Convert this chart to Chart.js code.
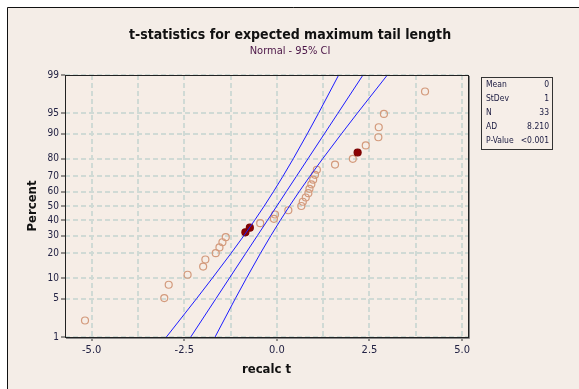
<!DOCTYPE html>
<html>
<head>
<meta charset="utf-8">
<script src="https://cdn.jsdelivr.net/npm/chart.js@4"></script>
<style>
  html, body { margin: 0; padding: 0; background: #fff; }
  canvas { display: block; }
</style>
</head>
<body>
<canvas id="myChart" width="579" height="389"></canvas>
<script>
// recalc t values (sorted) and their plotted percent
const recalcT = [-5.18, -3.04, -2.92, -2.41, -1.99, -1.93, -1.65, -1.55, -1.47, -1.38,
  -0.85, -0.73, -0.45, -0.08, -0.05, 0.31, 0.66, 0.70, 0.78, 0.85,
  0.88, 0.93, 0.98, 1.03, 1.08, 1.57, 2.05, 2.18, 2.40, 2.74,
  2.75, 2.89, 4.00];
const percentRank = [2.1, 5.1, 8.1, 11.1, 14.1, 17.1, 20.1, 23.1, 26.0, 29.0,
  32.0, 35.0, 38.0, 41.0, 44.0, 47.0, 50.0, 53.0, 56.0, 59.0,
  62.0, 65.0, 68.0, 71.0, 74.0, 76.9, 79.9, 82.9, 85.9, 88.9,
  91.9, 94.9, 97.9];
const brushedRows = [11, 12, 28];

// fitted line and 95% CI
const fitPercent = [1, 5, 10, 20, 30, 40, 50, 60, 70, 80, 90, 95, 99];
const fitT = [-2.326, -1.645, -1.282, -0.842, -0.524, -0.253, 0, 0.253, 0.524, 0.842, 1.282, 1.645, 2.326];
const lowerCI = [-2.983, -2.168, -1.743, -1.239, -0.888, -0.600, -0.341, -0.094, 0.160, 0.445, 0.821, 1.122, 1.669];
const upperCI = [-1.669, -1.122, -0.821, -0.445, -0.160, 0.094, 0.341, 0.600, 0.888, 1.239, 1.743, 2.168, 2.983];

const yTicks = [1, 5, 10, 20, 30, 40, 50, 60, 70, 80, 90, 95, 99];
const statLabels = ['Mean', 'StDev', 'N', 'AD', 'P-Value'];
const statValues = ['0', '1', '33', '8.210', '<0.001'];

const FONT = "'DejaVu Sans Condensed', 'DejaVu Sans', sans-serif";

// inverse normal cdf (Acklam)
function probit(p) {
  const a = [-3.969683028665376e+01, 2.209460984245205e+02, -2.759285104469687e+02, 1.383577518672690e+02, -3.066479806614716e+01, 2.506628277459239e+00];
  const b = [-5.447609879822406e+01, 1.615858368580409e+02, -1.556989798598866e+02, 6.680131188771972e+01, -1.328068155288572e+01];
  const c = [-7.784894002430293e-03, -3.223964580411365e-01, -2.400758277161838e+00, -2.549732539343734e+00, 4.374664141464968e+00, 2.938163982698783e+00];
  const d = [7.784695709041462e-03, 3.224671290700398e-01, 2.445134137142996e+00, 3.754408661907416e+00];
  const pl = 0.02425;
  if (p < pl) {
    const q = Math.sqrt(-2 * Math.log(p));
    return (((((c[0]*q+c[1])*q+c[2])*q+c[3])*q+c[4])*q+c[5]) / ((((d[0]*q+d[1])*q+d[2])*q+d[3])*q+1);
  }
  if (p > 1 - pl) {
    const q = Math.sqrt(-2 * Math.log(1 - p));
    return -(((((c[0]*q+c[1])*q+c[2])*q+c[3])*q+c[4])*q+c[5]) / ((((d[0]*q+d[1])*q+d[2])*q+d[3])*q+1);
  }
  const q = p - 0.5, r = q * q;
  return (((((a[0]*r+a[1])*r+a[2])*r+a[3])*r+a[4])*r+a[5])*q / (((((b[0]*r+b[1])*r+b[2])*r+b[3])*r+b[4])*r+1);
}

// normal probability axis
const LinearScale = Chart.LinearScale || Chart.registry.getScale('linear');
class ProbabilityScale extends LinearScale {
  determineDataLimits() {
    this.min = probit(this.options.min / 100);
    this.max = probit(this.options.max / 100);
  }
  buildTicks() {
    return yTicks.map(v => ({ value: v }));
  }
  getPixelForValue(value) {
    return this.getPixelForDecimal((probit(value / 100) - this.min) / (this.max - this.min));
  }
}
ProbabilityScale.id = 'probability';
Chart.register(ProbabilityScale);

const isMajor = v => Math.abs(v / 2.5 - Math.round(v / 2.5)) < 1e-6;

const decor = {
  id: 'decor',
  beforeDraw(chart) {
    const { ctx, chartArea: a } = chart;
    ctx.save();
    ctx.fillStyle = '#ffffff';
    ctx.fillRect(0, 0, chart.width, chart.height);
    ctx.fillStyle = '#f4ede7';
    ctx.fillRect(7, 7, chart.width - 7, chart.height - 7);
    ctx.strokeStyle = '#111';
    ctx.lineWidth = 1;
    ctx.beginPath();
    ctx.moveTo(7.5, chart.height);
    ctx.lineTo(7.5, 7.5);
    ctx.lineTo(chart.width, 7.5);
    ctx.stroke();
    ctx.fillStyle = '#f6ede6';
    ctx.fillRect(a.left, a.top, a.right - a.left, a.bottom - a.top);
    ctx.restore();
  },
  afterDraw(chart) {
    const { ctx, chartArea: a } = chart;
    ctx.save();
    // plot frame
    ctx.strokeStyle = '#222';
    ctx.lineWidth = 1;
    ctx.strokeRect(a.left + 0.5, a.top + 0.5, a.right - a.left, a.bottom - a.top);
    ctx.strokeStyle = '#888';
    ctx.beginPath();
    ctx.moveTo(a.right + 1.5, a.top + 1);
    ctx.lineTo(a.right + 1.5, a.bottom + 1.5);
    ctx.lineTo(a.left + 1, a.bottom + 1.5);
    ctx.stroke();

    // titles
    ctx.textAlign = 'center';
    ctx.textBaseline = 'middle';
    ctx.fillStyle = '#111';
    ctx.font = "bold 14px " + FONT;
    ctx.fillText('t-statistics for expected maximum tail length', 290, 35);
    ctx.fillStyle = '#4a1446';
    ctx.font = "11px " + FONT;
    ctx.fillText('Normal - 95% CI', 290, 51);

    // stats box
    const bx = 481, by = 77, bw = 71, bh = 72;
    ctx.fillStyle = '#f6eee8';
    ctx.fillRect(bx, by, bw, bh);
    ctx.strokeStyle = '#333';
    ctx.strokeRect(bx + 0.5, by + 0.5, bw, bh);
    ctx.font = "8.5px " + FONT;
    ctx.fillStyle = '#1a1a40';
    statLabels.forEach((s, i) => {
      const y = by + 8 + i * 14;
      ctx.textAlign = 'left';
      ctx.fillText(s, bx + 5, y);
      ctx.textAlign = 'right';
      ctx.fillText(statValues[i], bx + bw - 3, y);
    });
    ctx.restore();
  }
};

const toPoints = (xs, ys) => xs.map((x, i) => ({ x: x, y: ys[i] }));
const lineStyle = { showLine: true, borderColor: '#1c1cff', borderWidth: 1, pointRadius: 0, fill: false, tension: 0 };

new Chart(document.getElementById('myChart'), {
  type: 'scatter',
  data: {
    datasets: [
      Object.assign({ label: 'lower', data: toPoints(lowerCI, fitPercent) }, lineStyle),
      Object.assign({ label: 'fit', data: toPoints(fitT, fitPercent) }, lineStyle),
      Object.assign({ label: 'upper', data: toPoints(upperCI, fitPercent) }, lineStyle),
      {
        label: 'recalc t',
        data: toPoints(recalcT, percentRank),
        pointRadius: 3.5,
        pointBorderWidth: 1.2,
        pointBorderColor: recalcT.map((v, i) => brushedRows.includes(i + 1) ? '#7a0000' : '#d39a7c'),
        pointBackgroundColor: recalcT.map((v, i) => brushedRows.includes(i + 1) ? '#8b0000' : 'rgba(0,0,0,0)')
      }
    ]
  },
  options: {
    responsive: false,
    animation: false,
    events: [],
    layout: { padding: { left: 0, top: 75, right: 111, bottom: 0 } },
    plugins: { legend: { display: false }, tooltip: { enabled: false } },
    scales: {
      x: {
        type: 'linear',
        min: -5.72,
        max: 5.16,
        afterFit: s => { s.height = 52; },
        ticks: {
          stepSize: 1.25,
          includeBounds: false,
          autoSkip: false,
          maxRotation: 0,
          padding: 3,
          color: '#222244',
          font: { family: FONT, size: 11 },
          callback: v => isMajor(v) ? v.toFixed(1) : ''
        },
        grid: {
          color: '#d0dad5',
          lineWidth: 2,
          tickLength: 4,
          tickWidth: 1,
          tickColor: c => (c.tick && isMajor(c.tick.value)) ? '#333' : 'rgba(0,0,0,0)'
        },
        border: { display: false, dash: [5, 3] },
        title: {
          display: true,
          text: 'recalc t',
          color: '#111',
          font: { family: FONT, size: 13, weight: 'bold' },
          padding: { top: 0, bottom: 12 }
        }
      },
      y: {
        type: 'probability',
        min: 1,
        max: 99,
        afterFit: s => { s.width = 65; },
        ticks: {
          autoSkip: false,
          padding: 2,
          color: '#222244',
          font: { family: FONT, size: 10 },
          callback: v => String(v)
        },
        grid: {
          color: '#d0dad5',
          lineWidth: 2,
          tickLength: 4,
          tickWidth: 1,
          tickColor: '#333'
        },
        border: { display: false, dash: [5, 3] },
        title: {
          display: true,
          text: 'Percent',
          color: '#111',
          font: { family: FONT, size: 13, weight: 'bold' },
          padding: { top: 25, bottom: 0 }
        }
      }
    }
  },
  plugins: [decor]
});
</script>
</body>
</html>
